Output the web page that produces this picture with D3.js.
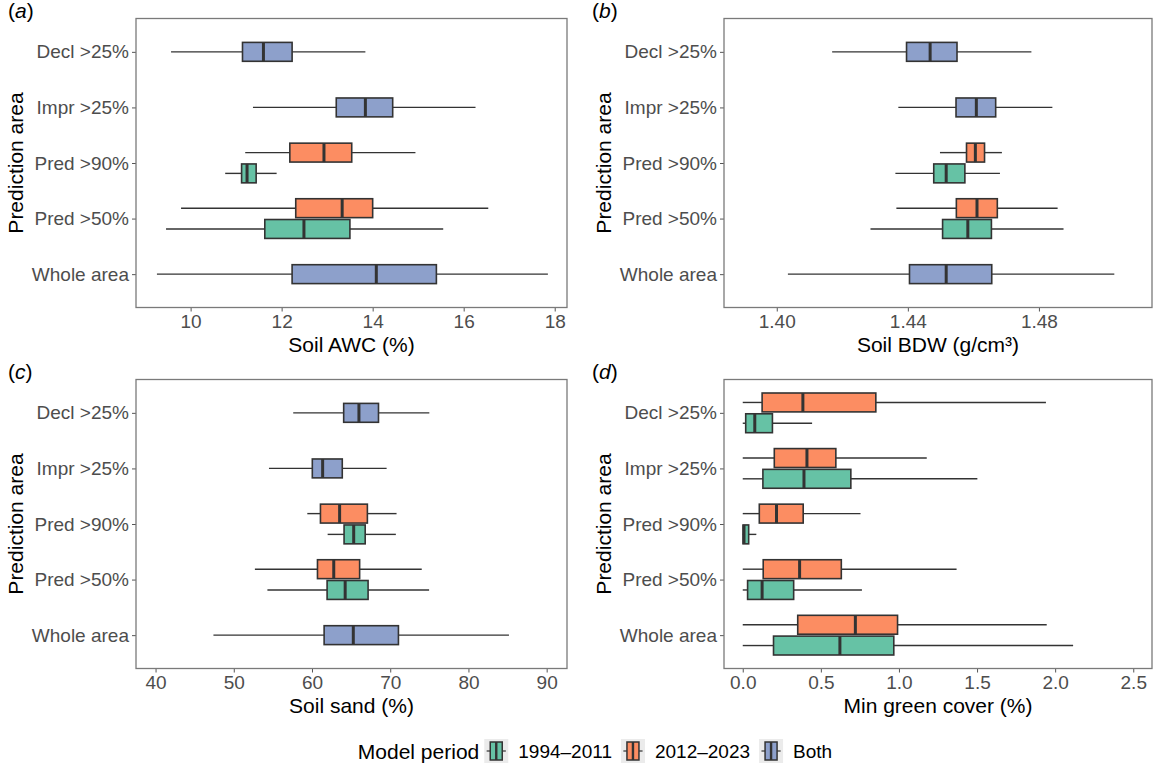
<!DOCTYPE html>
<html>
<head>
<meta charset="utf-8">
<script src="https://cdn.jsdelivr.net/npm/d3@7"></script>
<style>
  html, body { margin: 0; padding: 0; background: #fff; }
  svg { display: block; }
  text { font-family: "Liberation Sans", Arial, sans-serif; }
</style>
</head>
<body>
<svg id="chart" width="1157" height="764"></svg>
<script>
// ---------------- DATA ----------------
const categories = ["Decl >25%", "Impr >25%", "Pred >90%", "Pred >50%", "Whole area"];
const periods = ["1994\u20132011", "2012\u20132023", "Both"];
const periodColors = ["#66C2A5", "#FC8D62", "#8DA0CB"];

// rows: [category, period, whiskerMin, Q1, median, Q3, whiskerMax]
const awcStats = [
  ["Decl >25%",  "Both",          9.57, 11.14, 11.60, 12.23, 13.84],
  ["Impr >25%",  "Both",         11.37, 13.20, 13.84, 14.44, 16.26],
  ["Pred >90%",  "2012\u20132023", 11.20, 12.18, 12.93, 13.54, 14.94],
  ["Pred >90%",  "1994\u20132011", 10.76, 11.12, 11.24, 11.44, 11.89],
  ["Pred >50%",  "2012\u20132023",  9.79, 12.31, 13.33, 14.00, 16.54],
  ["Pred >50%",  "1994\u20132011",  9.46, 11.63, 12.49, 13.50, 15.55],
  ["Whole area", "Both",          9.26, 12.23, 14.08, 15.40, 17.85]
];
const bdwStats = [
  ["Decl >25%",  "Both",         1.4169, 1.4396, 1.4468, 1.4550, 1.4777],
  ["Impr >25%",  "Both",         1.4371, 1.4547, 1.4609, 1.4668, 1.4841],
  ["Pred >90%",  "2012\u20132023", 1.4498, 1.4579, 1.4606, 1.4634, 1.4687],
  ["Pred >90%",  "1994\u20132011", 1.4362, 1.4479, 1.4517, 1.4574, 1.4681],
  ["Pred >50%",  "2012\u20132023", 1.4365, 1.4548, 1.4611, 1.4673, 1.4857],
  ["Pred >50%",  "1994\u20132011", 1.4286, 1.4506, 1.4583, 1.4655, 1.4875],
  ["Whole area", "Both",         1.4034, 1.4405, 1.4517, 1.4656, 1.5030]
];
const sandStats = [
  ["Decl >25%",  "Both",         57.6, 64.05, 66.0, 68.5, 75.0],
  ["Impr >25%",  "Both",         54.5, 60.04, 61.36, 63.87, 69.54],
  ["Pred >90%",  "2012\u20132023", 59.4, 61.08, 63.53, 67.08, 70.81],
  ["Pred >90%",  "1994\u20132011", 62.0, 64.10, 65.33, 66.80, 70.72],
  ["Pred >50%",  "2012\u20132023", 52.7, 60.70, 62.78, 66.09, 74.03],
  ["Pred >50%",  "1994\u20132011", 54.3, 61.93, 64.24, 67.17, 74.97],
  ["Whole area", "Both",         47.4, 61.55, 65.28, 71.05, 85.18]
];
const greenStats = [
  ["Decl >25%",  "2012\u20132023", 0.0, 0.124, 0.385, 0.852, 1.941],
  ["Decl >25%",  "1994\u20132011", 0.0, 0.019, 0.077, 0.190, 0.444],
  ["Impr >25%",  "2012\u20132023", 0.0, 0.202, 0.411, 0.596, 1.178],
  ["Impr >25%",  "1994\u20132011", 0.0, 0.129, 0.392, 0.692, 1.502],
  ["Pred >90%",  "2012\u20132023", 0.0, 0.106, 0.216, 0.387, 0.754],
  ["Pred >90%",  "1994\u20132011", 0.0, 0.002, 0.008, 0.038, 0.087],
  ["Pred >50%",  "2012\u20132023", 0.0, 0.131, 0.364, 0.631, 1.369],
  ["Pred >50%",  "1994\u20132011", 0.0, 0.031, 0.124, 0.326, 0.763],
  ["Whole area", "2012\u20132023", 0.0, 0.352, 0.721, 0.991, 1.946],
  ["Whole area", "1994\u20132011", 0.0, 0.197, 0.622, 0.967, 2.115]
];

const panelTags = ["(a)", "(b)", "(c)", "(d)"];
const xTitles = ["Soil AWC (%)", "Soil BDW (g/cm\u00B3)", "Soil sand (%)", "Min green cover (%)"];
const yTitle = "Prediction area";
const awcTicks = [10, 12, 14, 16, 18];
const bdwTicks = [1.40, 1.44, 1.48];
const sandTicks = [40, 50, 60, 70, 80, 90];
const greenTicks = [0.0, 0.5, 1.0, 1.5, 2.0, 2.5];
const awcDomain = [8.8, 18.27];
const bdwDomain = [1.3839, 1.5145];
const sandDomain = [37.5, 92.6];
const greenDomain = [-0.12, 2.62];
const legendTitle = "Model period";

// ---------------- LAYOUT ----------------
const svg = d3.select("#chart");
const panels = [
  {stats: awcStats,   ticks: awcTicks,   domain: awcDomain,   fmt: d3.format("d"),   x0: 136, x1: 567,  y0: 18.5,  y1: 307.5},
  {stats: bdwStats,   ticks: bdwTicks,   domain: bdwDomain,   fmt: d3.format(".2f"), x0: 724, x1: 1152, y0: 18.5,  y1: 307.5},
  {stats: sandStats,  ticks: sandTicks,  domain: sandDomain,  fmt: d3.format("d"),   x0: 136, x1: 567,  y0: 379.5, y1: 668.5},
  {stats: greenStats, ticks: greenTicks, domain: greenDomain, fmt: d3.format(".1f"), x0: 724, x1: 1152, y0: 379.5, y1: 668.5}
];
const tagX = [8, 592, 8, 592];
const color = d3.scaleOrdinal(periods, periodColors);
const tickFont = 19, titleFont = 21;
const dark = "#333333";

panels.forEach((p, i) => {
  const g = svg.append("g");
  const x = d3.scaleLinear().domain(p.domain).range([p.x0, p.x1]);
  const y = d3.scalePoint().domain(categories).range([p.y0, p.y1]).padding(0.6);
  const step = y.step();
  const boxH = 0.34 * step;
  const dodge = 0.187 * step;

  // x axis
  const xAxis = g.append("g").attr("transform", `translate(0,${p.y1})`)
    .call(d3.axisBottom(x).tickValues(p.ticks).tickFormat(p.fmt).tickSize(4).tickPadding(3));
  xAxis.select(".domain").remove();
  xAxis.selectAll(".tick line").attr("stroke", "#555").attr("stroke-width", 1);
  xAxis.selectAll(".tick text").attr("fill", "#4D4D4D").style("font-size", tickFont + "px")
    .style("font-family", '"Liberation Sans", Arial, sans-serif');

  // y axis
  const yAxis = g.append("g").attr("transform", `translate(${p.x0},0)`)
    .call(d3.axisLeft(y).tickSize(4).tickPadding(3));
  yAxis.select(".domain").remove();
  yAxis.selectAll(".tick line").attr("stroke", "#555").attr("stroke-width", 1);
  yAxis.selectAll(".tick text").attr("fill", "#4D4D4D").style("font-size", tickFont + "px")
    .style("font-family", '"Liberation Sans", Arial, sans-serif');

  // boxes
  const rows = p.stats.map(r => ({cat: r[0], per: r[1], min: r[2], q1: r[3], med: r[4], q3: r[5], max: r[6]}));
  rows.forEach(r => {
    const n = rows.filter(s => s.cat === r.cat).length;
    let off = 0;
    if (n === 2) off = (r.per === periods[1]) ? -dodge : dodge;
    r.cy = y(r.cat) + off;
  });
  const bg = g.append("g");
  const b = bg.selectAll("g.box").data(rows).join("g").attr("class", "box");
  b.append("line").attr("x1", d => x(d.min)).attr("x2", d => x(d.q1))
    .attr("y1", d => d.cy).attr("y2", d => d.cy).attr("stroke", dark).attr("stroke-width", 1.4);
  b.append("line").attr("x1", d => x(d.q3)).attr("x2", d => x(d.max))
    .attr("y1", d => d.cy).attr("y2", d => d.cy).attr("stroke", dark).attr("stroke-width", 1.4);
  b.append("rect").attr("x", d => x(d.q1)).attr("width", d => Math.max(0.5, x(d.q3) - x(d.q1)))
    .attr("y", d => d.cy - boxH / 2).attr("height", boxH)
    .attr("fill", d => color(d.per)).attr("stroke", dark).attr("stroke-width", 1.6);
  b.append("line").attr("x1", d => x(d.med)).attr("x2", d => x(d.med))
    .attr("y1", d => d.cy - boxH / 2).attr("y2", d => d.cy + boxH / 2)
    .attr("stroke", dark).attr("stroke-width", 3);

  // panel border
  g.append("rect").attr("x", p.x0).attr("y", p.y0).attr("width", p.x1 - p.x0).attr("height", p.y1 - p.y0)
    .attr("fill", "none").attr("stroke", "#7a7a7a").attr("stroke-width", 1.3);

  // axis titles
  g.append("text").attr("x", (p.x0 + p.x1) / 2).attr("y", p.y1 + 44.5).attr("text-anchor", "middle")
    .style("font-size", titleFont + "px").attr("fill", "#000").text(xTitles[i]);
  const yx = (i % 2 === 0) ? 23 : 611;
  g.append("text").attr("transform", `translate(${yx},${(p.y0 + p.y1) / 2}) rotate(-90)`)
    .attr("text-anchor", "middle").style("font-size", titleFont + "px").attr("fill", "#000").text(yTitle);

  // panel tag
  const t = g.append("text").attr("x", tagX[i]).attr("y", p.y0 - 1).style("font-size", titleFont + "px").attr("fill", "#000");
  const tag = panelTags[i];
  t.append("tspan").text("(");
  t.append("tspan").style("font-style", "italic").text(tag.slice(1, -1));
  t.append("tspan").text(")");
});

// ---------------- LEGEND ----------------
const leg = svg.append("g");
const legY = 751;
let lx = 0;
const lt = leg.append("text").attr("x", lx).attr("y", legY + 7.5).style("font-size", titleFont + "px").attr("fill", "#000").text(legendTitle);
lx += lt.node().getComputedTextLength() + 5;
const keyS = 24;
periods.forEach((per, k) => {
  const kg = leg.append("g").attr("transform", `translate(${lx},${legY - keyS / 2})`);
  kg.append("rect").attr("width", keyS).attr("height", keyS).attr("fill", "#EBEBEB");
  kg.append("line").attr("x1", keyS * 0.1).attr("x2", keyS * 0.25).attr("y1", keyS / 2).attr("y2", keyS / 2).attr("stroke", dark).attr("stroke-width", 1.2);
  kg.append("line").attr("x1", keyS * 0.75).attr("x2", keyS * 0.9).attr("y1", keyS / 2).attr("y2", keyS / 2).attr("stroke", dark).attr("stroke-width", 1.2);
  kg.append("rect").attr("x", keyS * 0.25).attr("width", keyS * 0.5).attr("y", keyS * 0.125).attr("height", keyS * 0.75)
    .attr("fill", color(per)).attr("stroke", dark).attr("stroke-width", 1.5);
  kg.append("line").attr("x1", keyS / 2).attr("x2", keyS / 2).attr("y1", keyS * 0.125).attr("y2", keyS * 0.875).attr("stroke", dark).attr("stroke-width", 2.4);
  lx += keyS + 10;
  const tx = leg.append("text").attr("x", lx).attr("y", legY + 6.5).style("font-size", tickFont + "px").attr("fill", "#000").text(per);
  lx += tx.node().getComputedTextLength() + 9;
});
const legW = lx - 9;
leg.attr("transform", `translate(${595 - legW / 2},0)`);
</script>
</body>
</html>
